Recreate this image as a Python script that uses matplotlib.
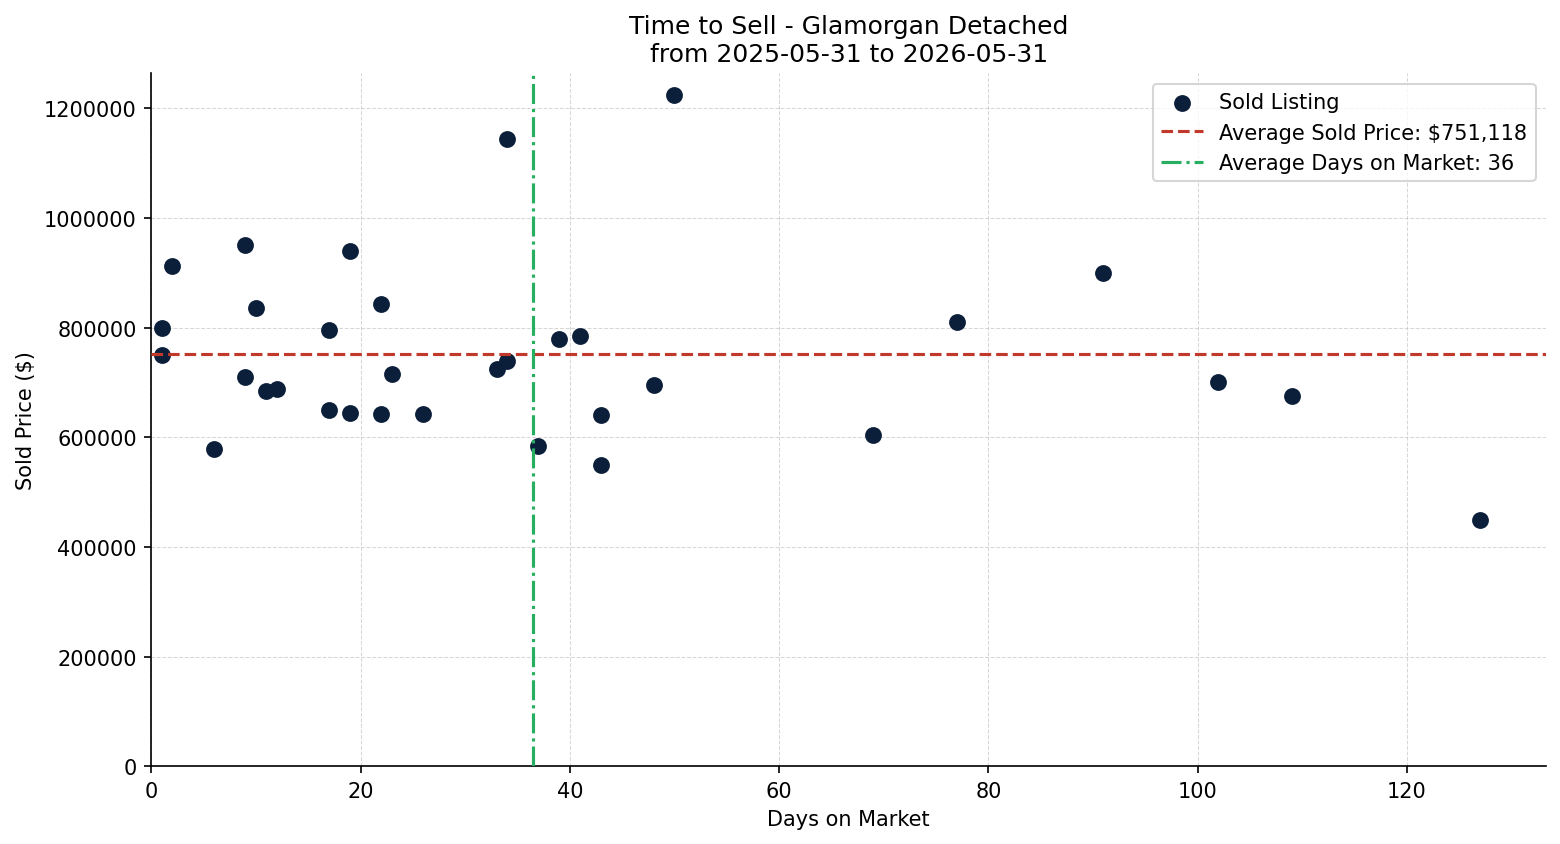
import numpy as np
import matplotlib
matplotlib.use('Agg')
import matplotlib.pyplot as plt

# sold listings
days_on_market = [1, 1, 2, 6, 9, 9, 10, 11, 12, 17, 17, 19, 19, 22, 22, 23, 26,
                  33, 34, 34, 37, 39, 41, 43, 43, 48, 50, 69, 77, 91, 102, 109, 127]
sold_price = [800000, 750000, 912000, 578000, 950000, 710000, 835000, 685000, 687500,
              795000, 650000, 940000, 645000, 843000, 642000, 715000, 642000,
              725000, 1145000, 739000, 585000, 780000, 785000, 640000, 550000,
              695000, 1225000, 605000, 810000, 899000, 700000, 675000, 450000]

avg_price = 751118
avg_days = np.mean(days_on_market)

title = 'Time to Sell - Glamorgan Detached\nfrom 2025-05-31 to 2026-05-31'

fig, ax = plt.subplots(figsize=(10.4, 5.633), dpi=150)

ax.scatter(days_on_market, sold_price, s=50, color='#0b1f3a', zorder=3,
           label='Sold Listing')
ax.axhline(avg_price, color='#c0392b', linestyle='--', linewidth=1.5, zorder=4,
           label=f'Average Sold Price: ${avg_price:,.0f}')
ax.axvline(avg_days, color='#27ae60', linestyle='-.', linewidth=1.5, zorder=4,
           label=f'Average Days on Market: {avg_days:.0f}')

ax.set_xlim(left=0)
ax.set_ylim(bottom=0)
ax.ticklabel_format(axis='y', style='plain', useOffset=False)

ax.set_title(title, fontsize=12)
ax.set_xlabel('Days on Market')
ax.set_ylabel('Sold Price ($)')
ax.grid(True, linestyle='--', linewidth=0.5, alpha=0.5)
ax.spines['top'].set_visible(False)
ax.spines['right'].set_visible(False)
ax.legend(loc='upper right')

fig.subplots_adjust(left=0.097, right=0.991, top=0.912, bottom=0.092)
fig.savefig('out.png', dpi=150)
